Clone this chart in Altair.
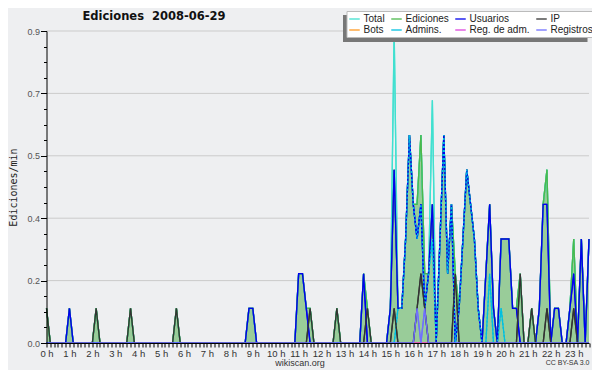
import altair as alt
import pandas as pd

# ---------------- data (10-minute buckets, 0 .. 142) ----------------
n_buckets = 143
# legend order (column by column: Total/Bots, Ediciones/Admins., Usuarios/Reg. de adm., IP/Registros)
series_names = ["Total", "Bots", "Ediciones", "Admins.", "Usuarios", "Reg. de adm.", "IP", "Registros"]
series_colors = ["#40e0d0", "#ff9922", "#4cb84c", "#00c0e0", "#0000ee", "#dd44dd", "#333333", "#7070ff"]

usuarios = {6: 0.1, 53: 0.1, 54: 0.1, 66: 0.2, 67: 0.2, 68: 0.1, 83: 0.2, 90: 0.1, 91: 0.5,
            92: 0.1, 93: 0.1, 94: 0.3, 95: 0.6, 96: 0.4, 97: 0.3, 98: 0.4, 99: 0.1, 100: 0.2,
            101: 0.4, 103: 0.3, 104: 0.6, 105: 0.2, 106: 0.4, 108: 0.1, 109: 0.3, 110: 0.5,
            111: 0.4, 112: 0.3, 113: 0.1, 115: 0.2, 116: 0.4, 117: 0.1, 119: 0.3, 120: 0.3,
            121: 0.3, 122: 0.1, 123: 0.1, 129: 0.1, 130: 0.4, 131: 0.4, 133: 0.1, 134: 0.1,
            137: 0.1, 138: 0.2, 140: 0.3, 142: 0.3}
ip = {0: 0.1, 13: 0.1, 22: 0.1, 34: 0.1, 69: 0.1, 76: 0.1, 84: 0.1, 91: 0.1, 97: 0.1,
      98: 0.2, 99: 0.1, 107: 0.2, 124: 0.2, 127: 0.1, 131: 0.1, 138: 0.1}
ediciones = {0: 0.1, 6: 0.1, 13: 0.1, 22: 0.1, 34: 0.1, 53: 0.1, 54: 0.1, 66: 0.2, 67: 0.2,
             68: 0.1, 69: 0.1, 76: 0.1, 83: 0.2, 84: 0.1, 90: 0.1, 91: 0.5, 92: 0.1, 93: 0.1,
             94: 0.3, 95: 0.6, 96: 0.4, 97: 0.4, 98: 0.6, 99: 0.2, 100: 0.2, 101: 0.4, 103: 0.3,
             104: 0.6, 105: 0.2, 106: 0.4, 107: 0.2, 108: 0.1, 109: 0.3, 110: 0.5, 111: 0.4,
             112: 0.3, 113: 0.1, 115: 0.2, 116: 0.4, 117: 0.1, 119: 0.3, 120: 0.3, 121: 0.3,
             122: 0.1, 123: 0.1, 124: 0.2, 127: 0.1, 129: 0.1, 130: 0.4, 131: 0.5, 133: 0.1,
             134: 0.1, 137: 0.1, 138: 0.3, 140: 0.3, 142: 0.3}
total = {0: 0.1, 6: 0.1, 13: 0.1, 22: 0.1, 34: 0.1, 53: 0.1, 54: 0.1, 66: 0.2, 67: 0.2,
         68: 0.1, 69: 0.1, 76: 0.1, 83: 0.2, 84: 0.1, 90: 0.1, 91: 0.9, 92: 0.1, 93: 0.1,
         94: 0.3, 95: 0.6, 96: 0.4, 97: 0.4, 98: 0.6, 99: 0.2, 100: 0.2, 101: 0.7, 103: 0.3,
         104: 0.6, 105: 0.2, 106: 0.4, 107: 0.2, 108: 0.1, 109: 0.3, 110: 0.5, 111: 0.4,
         112: 0.3, 113: 0.1, 115: 0.2, 116: 0.4, 117: 0.1, 119: 0.3, 120: 0.3, 121: 0.3,
         122: 0.1, 123: 0.1, 124: 0.2, 127: 0.1, 129: 0.1, 130: 0.4, 131: 0.5, 133: 0.1,
         134: 0.1, 137: 0.1, 138: 0.3, 140: 0.3, 142: 0.3}
admins = {92: 0.1, 93: 0.1, 94: 0.3, 95: 0.6, 96: 0.4, 97: 0.3, 98: 0.4, 99: 0.1, 100: 0.2,
          101: 0.3, 103: 0.3, 104: 0.6, 105: 0.2, 106: 0.4, 108: 0.1, 109: 0.3, 110: 0.5,
          111: 0.4, 112: 0.3, 113: 0.1, 116: 0.2, 119: 0.1}
registros = {97: 0.1, 99: 0.1}
bots = {}
reg_adm = {}

series_values = {"Total": total, "Ediciones": ediciones, "Usuarios": usuarios, "IP": ip,
                 "Bots": bots, "Admins.": admins, "Reg. de adm.": reg_adm, "Registros": registros}

y_major = [0.0, 0.18, 0.36, 0.54, 0.72, 0.9]
y_ticks = [round(i * 0.045, 3) for i in range(21)]
x_ticks = list(range(n_buckets))

rows = []
for name in series_names:
    vals = series_values[name]
    for t in range(n_buckets):
        rows.append({"series": name, "t": t, "value": vals.get(t, 0.0)})
df = pd.DataFrame(rows)

# ---------------- scales / axes ----------------
FONT = "Liberation Sans"
xscale = alt.Scale(domain=[0, n_buckets - 1], nice=False, zero=False)
yscale = alt.Scale(domain=[0, 0.9], nice=False)
major_test = "round(datum.value / 0.045) % 4 == 0"

xaxis = alt.Axis(values=x_ticks, title=None, grid=False, zindex=1,
                 labelExpr="datum.value % 6 == 0 ? (datum.value / 6) + ' h' : ''",
                 labelFont=FONT, labelFontSize=9.5, labelColor="#333333", labelPadding=1,
                 labelOverlap=False, labelFlush=False, labelBound=False,
                 tickSize=4, tickColor="#000000", tickWidth=1,
                 domainColor="#000000", domainWidth=1)
yaxis = alt.Axis(values=y_ticks, title="Ediciones/min", grid=False, zindex=1,
                 labelExpr=major_test + " ? format(datum.value, '.1f') : ''",
                 labelFont=FONT, labelFontSize=9, labelColor="#555555", labelPadding=1,
                 labelOverlap=False, labelFlush=False, labelBound=False,
                 tickSize={"condition": {"test": major_test, "value": 6}, "value": 3},
                 tickColor="#000000", tickWidth=1, domainColor="#000000", domainWidth=1,
                 titleFont="DejaVu Sans Mono", titleFontSize=10, titleFontWeight="normal",
                 titleColor="#222222", titlePadding=8)

X = alt.X("t:Q", scale=xscale, axis=xaxis)
Y = alt.Y("value:Q", scale=yscale, axis=yaxis)

# ---------------- layers ----------------
grid = alt.Chart(pd.DataFrame({"value": y_major[1:]})).mark_rule(
    color="#cbcbcb", strokeWidth=1).encode(y=Y)

area = alt.Chart().mark_area(color="#99cc99", opacity=1).encode(x=X, y=Y).transform_filter(
    alt.datum.series == "Ediciones")

legend_lines = alt.Chart().mark_line(strokeWidth=1.3).encode(
    x=X, y=Y,
    color=alt.Color("series:N", scale=alt.Scale(domain=series_names, range=series_colors),
                    legend=alt.Legend(title=None, orient="none", legendX=300, legendY=-20,
                                      columns=4, symbolType="stroke", symbolSize=110,
                                      symbolStrokeWidth=1.3, labelFont=FONT, labelFontSize=10,
                                      labelColor="#222222", fillColor="#ffffff",
                                      strokeColor="#bbbbbb", padding=2, rowPadding=0,
                                      columnPadding=3, labelOffset=3, labelLimit=200)))


def overlay(name, color, width=1.3, dash=None):
    mk = dict(color=color, strokeWidth=width)
    if dash:
        mk["strokeDash"] = dash
    return alt.Chart().mark_line(**mk).encode(x=X, y=Y).transform_filter(
        alt.datum.series == name)


ov_total = overlay("Total", "#40e0d0")
ov_edic = overlay("Ediciones", "#4cb84c")
ov_usu = overlay("Usuarios", "#0000ee", 1.4)
ov_adm = overlay("Admins.", "#00c0e0", 1.4, [2, 2])
ov_ip = overlay("IP", "#333333")
ov_reg = overlay("Registros", "#7070ff")

shadow = alt.Chart(pd.DataFrame({"k": [0]})).mark_rect(color="#777777").encode(
    x=alt.value(296.5), x2=alt.value(541), y=alt.value(-16), y2=alt.value(11))

title = alt.Chart(pd.DataFrame({"txt": ["Ediciones\u00a0 2008-06-29"]})).mark_text(
    font="DejaVu Sans", fontSize=11.5, fontWeight="bold", color="#111111", align="center",
    baseline="middle").encode(x=alt.value(107.5), y=alt.value(-14), text="txt:N")

foot1 = alt.Chart(pd.DataFrame({"txt": ["wikiscan.org"]})).mark_text(
    font=FONT, fontSize=9, color="#333333", align="center", baseline="middle").encode(
    x=alt.value(253.5), y=alt.value(332), text="txt:N")
foot2 = alt.Chart(pd.DataFrame({"txt": ["CC BY-SA 3.0"]})).mark_text(
    font=FONT, fontSize=7, color="#333333", align="right", baseline="middle").encode(
    x=alt.value(543), y=alt.value(332), text="txt:N")

chart = alt.layer(grid, area, legend_lines, ov_total, ov_edic, ov_usu, ov_adm, ov_ip, ov_reg,
                  shadow, title, foot1, foot2, data=df).properties(
    width=542.5, height=312, autosize=alt.AutoSizeParams(type="none"),
    padding={"left": 38.5, "top": 23, "right": 3, "bottom": 27},
    background="#eeeff1").configure_view(fill="#eeeff1", strokeWidth=0)

chart.save("out.html", embed_options={"renderer": "svg", "actions": False})
